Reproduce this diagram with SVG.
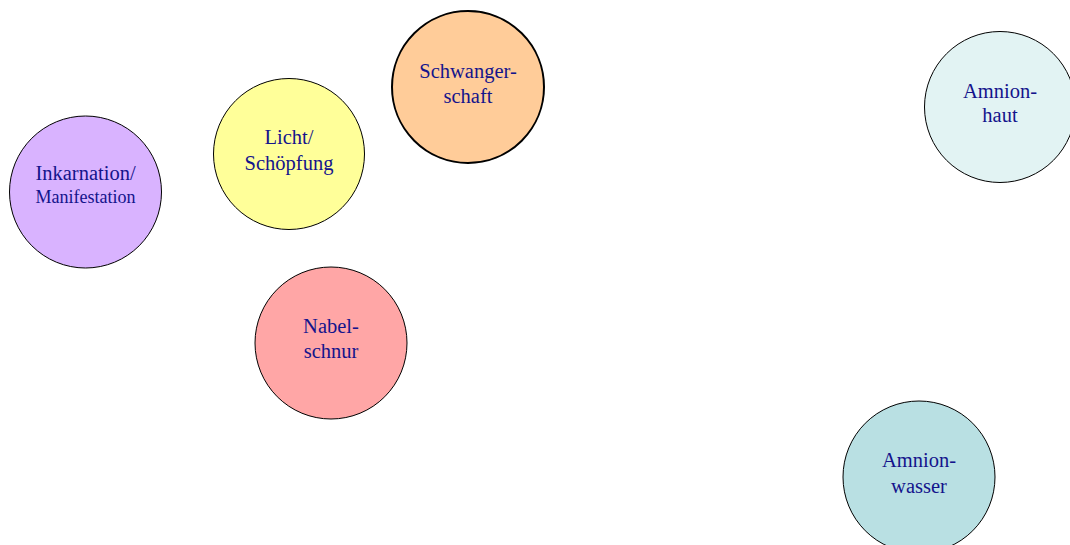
<svg xmlns="http://www.w3.org/2000/svg" width="1070" height="545" viewBox="0 0 1070 545">
<style>
.n{stroke:#000;stroke-width:1}
.b{stroke-width:2}
.t{font-family:"Liberation Serif","Times New Roman",serif;font-size:20.5px;fill:#14148c;text-anchor:middle}
.s{font-size:18px}
</style>
<rect width="1070" height="545" fill="#fff"/>
<g id="connectors"></g>
<g id="inkarnation"><circle class="n" cx="85.5" cy="192" r="76" fill="#d9b3ff"/><text class="t" x="85.5" y="180">Inkarnation/</text><text class="t s" x="85.5" y="203">Manifestation</text></g>
<g id="licht"><circle class="n" cx="289" cy="154" r="75.5" fill="#ffff99"/><text class="t" x="289" y="144">Licht/</text><text class="t" x="289" y="170">Schöpfung</text></g>
<g id="schwangerschaft"><circle class="n b" cx="468" cy="87" r="76" fill="#ffcc99"/><text class="t" x="468" y="78">Schwanger-</text><text class="t" x="468" y="103">schaft</text></g>
<g id="nabelschnur"><circle class="n" cx="331" cy="343" r="76" fill="#ffa6a6"/><text class="t" x="331" y="333">Nabel-</text><text class="t" x="331" y="358">schnur</text></g>
<g id="amnionhaut"><circle class="n" cx="1000" cy="107" r="75.5" fill="#e2f3f3"/><text class="t" x="1000" y="98">Amnion-</text><text class="t" x="1000" y="122">haut</text></g>
<g id="amnionwasser"><circle class="n" cx="919" cy="477" r="76" fill="#b9e0e3"/><text class="t" x="919" y="467">Amnion-</text><text class="t" x="919" y="493">wasser</text></g>
</svg>
